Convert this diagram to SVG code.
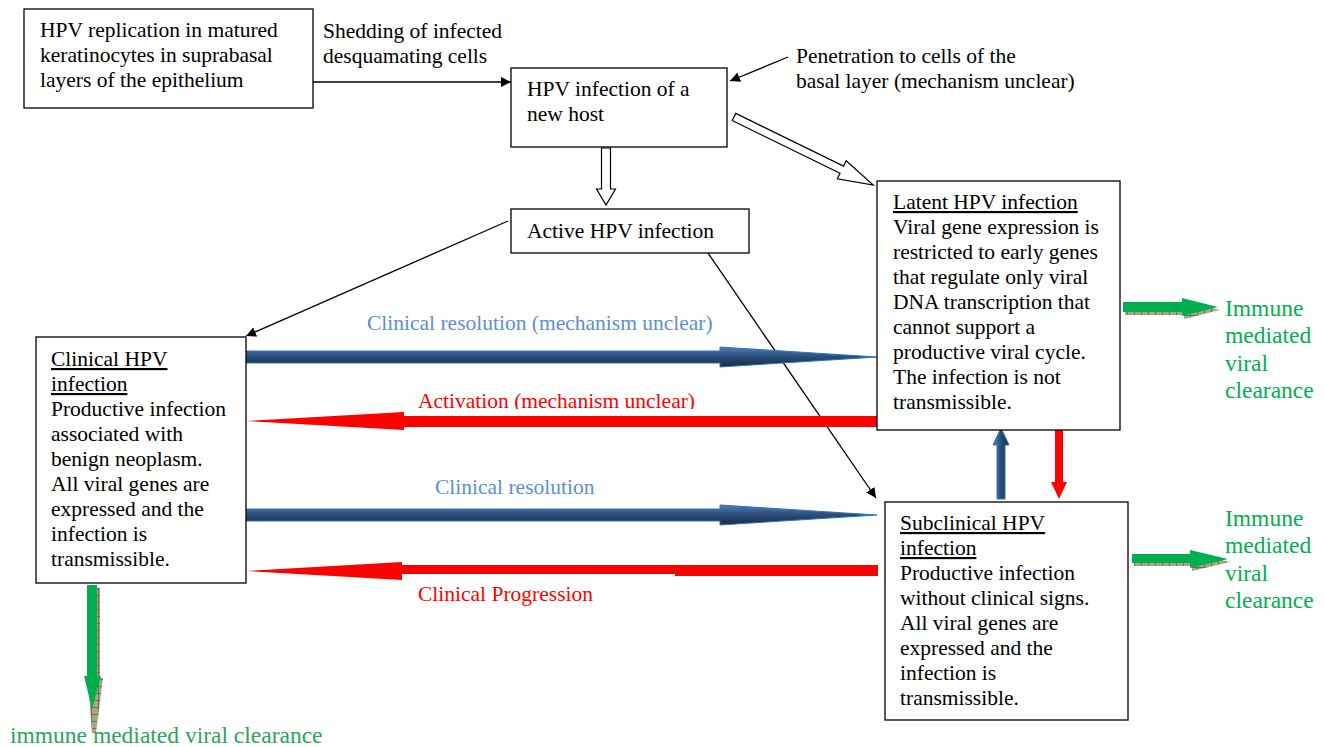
<svg xmlns="http://www.w3.org/2000/svg" width="1325" height="747" viewBox="0 0 1325 747">
<style>
.box{fill:#fff;stroke:#000;stroke-width:1.3}
.t{font-family:"Liberation Serif","Times New Roman",serif;font-size:21.5px;fill:#000}
.g{font-family:"Liberation Serif","Times New Roman",serif;font-size:23.5px;fill:#00b050}
.lb{font-family:"Liberation Serif","Times New Roman",serif;font-size:21.5px;fill:#5b8fd4}
.lr{font-family:"Liberation Serif","Times New Roman",serif;font-size:21.5px;fill:#ff0000}
.u{text-decoration:underline}
.ln{stroke:#000;stroke-width:1.3;fill:none;marker-end:url(#ah)}
.hollow{fill:#fff;stroke:#000;stroke-width:1.2}
.blue{fill:url(#bg);stroke:#2e75b6;stroke-width:1}
.bluev{fill:url(#bgv);stroke:#2e75b6;stroke-width:1}
.red{fill:#ff0000}
.grn{fill:#00b050}
.shd{fill:url(#sp)}
</style>
<defs>
<marker id="ah" viewBox="0 0 10 10" refX="10" refY="5" markerWidth="10" markerHeight="10" markerUnits="userSpaceOnUse" orient="auto">
<path d="M0,0 L10,5 L0,10 z" fill="#000"/>
</marker>
<linearGradient id="bg" x1="0" y1="0" x2="0" y2="1">
<stop offset="0" stop-color="#4a7fb8"/>
<stop offset="0.5" stop-color="#2a4c78"/>
<stop offset="1" stop-color="#1a2b44"/>
</linearGradient>
<linearGradient id="bgv" x1="0" y1="0" x2="1" y2="0">
<stop offset="0" stop-color="#4a7fb8"/>
<stop offset="0.5" stop-color="#2a4c78"/>
<stop offset="1" stop-color="#1a2b44"/>
</linearGradient>
<pattern id="sp" width="7" height="7" patternUnits="userSpaceOnUse">
<rect width="7" height="7" fill="#a7a785"/>
<line x1="0.5" y1="0" x2="0.5" y2="7" stroke="#6f6f52" stroke-width="1"/>
<line x1="0" y1="0.5" x2="7" y2="0.5" stroke="#6f6f52" stroke-width="1"/>
</pattern>
<clipPath id="actclip"><rect x="400" y="380" width="320" height="29"/></clipPath>
</defs>

<g id="connectors">
<line class="ln" x1="313" y1="82" x2="511" y2="82"/>
<line class="ln" x1="788" y1="57" x2="730" y2="81"/>
<line class="ln" x1="508" y1="221" x2="246" y2="336"/>
<line class="ln" x1="708" y1="253" x2="876" y2="498"/>
<polygon class="hollow" points="601.5,148 610.5,148 610.5,189 615.5,189 606,205 596.5,189 601.5,189"/>
<polygon class="hollow" transform="translate(734,117) rotate(26.07)" points="0,-4 120,-4 120,-10 155,0 120,10 120,4 0,4"/>
<polygon class="blue" points="246,351 720,351 720,347 877,357 720,367 720,363 246,363"/>
<polygon class="red" points="877,416 404,416 404,412 246,421 404,430 404,427 877,427"/>
<polygon class="blue" points="246,509 720,509 720,505 877,515 720,525 720,521 246,521"/>
<polygon class="red" points="878,565 402,565 402,562 246,571 402,580 402,574 675,574 675,576 878,576"/>
<polygon class="bluev" points="997,499 997,445 993,445 1001,428 1009,445 1005,445 1005,499"/>
<polygon class="red" points="1055,430 1063,430 1063,482 1067,482 1059,499 1051,482 1055,482"/>
<polygon class="shd" points="1125,305 1184,305 1184,302 1220,310 1184,319 1184,315 1125,315"/>
<polygon class="grn" points="1123,302 1182,302 1182,298 1218,307 1182,316 1182,312 1123,312"/>
<polygon class="shd" points="1134,557 1192,557 1192,554 1230,562 1192,571 1192,566 1134,566"/>
<polygon class="grn" points="1132,554 1190,554 1190,550 1228,559 1190,568 1190,563 1132,563"/>
<polygon class="shd" points="90,588 100,588 100,678 103,678 96,733 92,733 88,680 90,680"/>
<polygon class="grn" points="87,585 97,585 97,676 101,676 92,709 84,676 87,676"/>
<text class="lb" x="367" y="330">Clinical resolution (mechanism unclear)</text>
<text class="lr" x="418" y="408" clip-path="url(#actclip)">Activation (mechanism unclear)</text>
<text class="lb" x="435" y="494">Clinical resolution</text>
<text class="lr" x="418" y="601">Clinical Progression</text>
<text class="t" x="323" y="38">Shedding of infected</text>
<text class="t" x="323" y="63">desquamating cells</text>
<text class="t" x="796" y="63">Penetration to cells of the</text>
<text class="t" x="796" y="88">basal layer (mechanism unclear)</text>
</g>

<g id="replication">
<rect class="box" x="24" y="9" width="289" height="99"/>
<text class="t" x="40" y="37">HPV replication in matured</text>
<text class="t" x="40" y="62">keratinocytes in suprabasal</text>
<text class="t" x="40" y="87">layers of the epithelium</text>
</g>

<g id="newhost">
<rect class="box" x="511" y="68" width="216" height="79"/>
<text class="t" x="527" y="96">HPV infection of a</text>
<text class="t" x="527" y="121">new host</text>
</g>

<g id="active">
<rect class="box" x="511" y="209" width="238" height="44"/>
<text class="t" x="527" y="238">Active HPV infection</text>
</g>

<g id="latent">
<rect class="box" x="877" y="181" width="243" height="249"/>
<text class="t" x="893" y="209"><tspan class="u">Latent HPV infection</tspan></text>
<text class="t" x="893" y="234">Viral gene expression is</text>
<text class="t" x="893" y="259">restricted to early genes</text>
<text class="t" x="893" y="284">that regulate only viral</text>
<text class="t" x="893" y="309">DNA transcription that</text>
<text class="t" x="893" y="334">cannot support a</text>
<text class="t" x="893" y="359">productive viral cycle.</text>
<text class="t" x="893" y="384">The infection is not</text>
<text class="t" x="893" y="409">transmissible.</text>
</g>

<g id="clinical">
<rect class="box" x="36" y="337" width="210" height="246"/>
<text class="t" x="51" y="366"><tspan class="u">Clinical HPV</tspan></text>
<text class="t" x="51" y="391"><tspan class="u">infection</tspan></text>
<text class="t" x="51" y="416">Productive infection</text>
<text class="t" x="51" y="441">associated with</text>
<text class="t" x="51" y="466">benign neoplasm.</text>
<text class="t" x="51" y="491">All viral genes are</text>
<text class="t" x="51" y="516">expressed and the</text>
<text class="t" x="51" y="541">infection is</text>
<text class="t" x="51" y="566">transmissible.</text>
</g>

<g id="subclinical">
<rect class="box" x="885" y="502" width="243" height="218"/>
<text class="t" x="900" y="530"><tspan class="u">Subclinical HPV</tspan></text>
<text class="t" x="900" y="555"><tspan class="u">infection</tspan></text>
<text class="t" x="900" y="580">Productive infection</text>
<text class="t" x="900" y="605">without clinical signs.</text>
<text class="t" x="900" y="630">All viral genes are</text>
<text class="t" x="900" y="655">expressed and the</text>
<text class="t" x="900" y="680">infection is</text>
<text class="t" x="900" y="705">transmissible.</text>
</g>

<g id="clearance1">
<text class="g" x="1225" y="316">Immune</text>
<text class="g" x="1225" y="343">mediated</text>
<text class="g" x="1225" y="371">viral</text>
<text class="g" x="1225" y="398">clearance</text>
</g>

<g id="clearance2">
<text class="g" x="1225" y="526">Immune</text>
<text class="g" x="1225" y="553">mediated</text>
<text class="g" x="1225" y="581">viral</text>
<text class="g" x="1225" y="608">clearance</text>
</g>

<g id="clearance3">
<text class="g" x="10" y="743" style="fill:#2ea35f">immune mediated viral clearance</text>
</g>
</svg>
